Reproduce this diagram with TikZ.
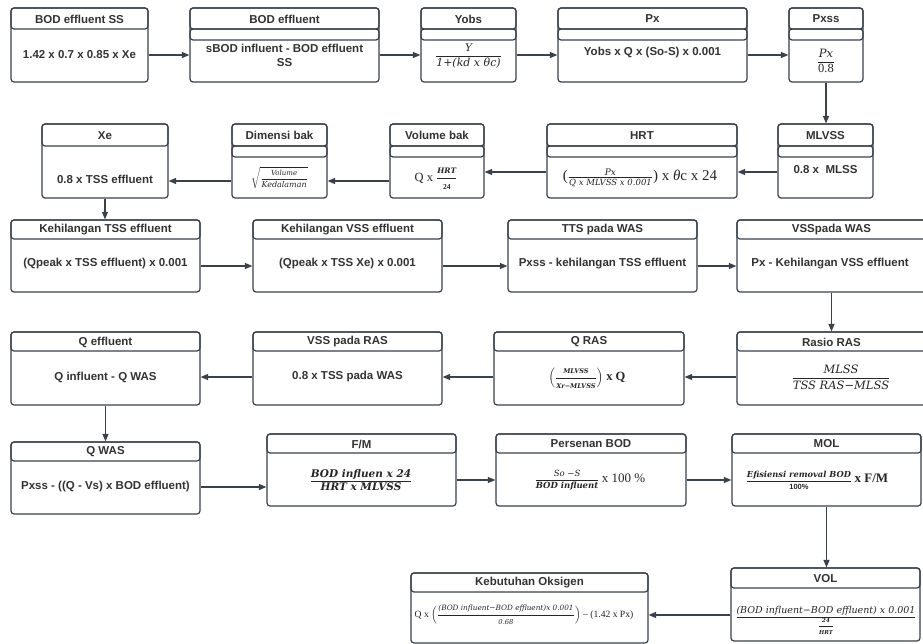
\documentclass[tikz,border=0pt]{standalone}
\usepackage{amsmath}
\usepackage{fontspec}
\setmainfont{Liberation Sans}
\newfontfamily\tnr{Liberation Serif}
\newfontfamily\djs{DejaVu Serif}
\usetikzlibrary{arrows.meta}

\definecolor{ln}{HTML}{3A414A}
\definecolor{txt}{HTML}{333333}

% italic and bold-italic variables at a given size, for the formulas
\newcommand\mvs[2]{\text{\fontsize{#1}{#1}\selectfont\djs\itshape #2}}
\newcommand\mbs[2]{\text{\fontsize{#1}{#1}\selectfont\djs\bfseries\itshape #2}}
\newcommand\mrs[2]{\text{\fontsize{#1}{#1}\selectfont\tnr #2}}

% A rounded box with a title strip, an optional empty band under it,
% and a named frame node covering the whole box.
% #1 name, #2 left, #3 top, #4 right, #5 bottom, #6 title bottom, #7 band bottom, #8 title
\newcommand\flowbox[8]{%
  \pgfmathsetmacro\bw{#4-#2}\pgfmathsetmacro\bh{#5-#3}%
  \node[frame, minimum width=\bw pt, minimum height=\bh pt] (#1) at ({(#2+#4)/2},{(#3+#5)/2}) {};
  \draw[part] (#2,#3) rectangle (#4,#6);
  \ifdim #7pt>#6pt \draw[part] (#2,#6) rectangle (#4,#7);\fi
  \node[title] (#1-title) at ({(#2+#4)/2},{(#3+#6)/2+0.5}) {#8};
}

\begin{document}
\begin{tikzpicture}[x=1pt,y=-1pt,
  frame/.style={draw=ln, line width=1.2pt, rounded corners=3pt, inner sep=0pt, fill=white},
  part/.style={draw=ln, line width=1.2pt, rounded corners=3pt},
  title/.style={font=\fontsize{11.5}{13}\selectfont\bfseries, text=txt, inner sep=0pt},
  body/.style={font=\fontsize{11.5}{14}\selectfont\bfseries, text=txt, align=center, inner sep=0pt},
  formula/.style={text=black!85, inner sep=0pt},
  arr/.style={draw=ln, line width=1.2pt, -{Triangle[length=7.5pt,width=6pt]}}]

\clip (0,0) rectangle (923,644);
\fill[white] (0,0) rectangle (923,644);

% ---- row 1
\flowbox{bodss}{11}{8}{148}{82}{29}{29}{BOD effluent SS}
\flowbox{bode}{190}{8}{379}{82}{29}{40}{BOD effluent}
\flowbox{yobs}{421}{8}{516}{82}{29}{40}{Yobs}
\flowbox{px}{558}{8}{747}{82}{29}{40}{Px}
\flowbox{pxss}{789}{8}{863}{82}{29}{40}{Pxss}

\node[body] (bodss-t) at (79.5,55) {1.42 x 0.7 x 0.85 x Xe};
\node[body] (bode-t) at (284.5,55) {sBOD influent - BOD effluent\\SS};
\node[formula] (yobs-t) at (468.5,56) {\fontsize{10}{12}\selectfont$\dfrac{\mvs{10.5}{Y}}{\mvs{11}{1+(kd x θc)}}$};
\node[body] (px-t) at (652.5,53) {Yobs x Q x (So-S) x 0.001};
\node[formula] (pxss-t) at (826,61) {\fontsize{11}{13}\selectfont$\dfrac{\mvs{11.5}{Px}}{\mrs{12.5}{0.8}}$};

% ---- row 2
\flowbox{xe}{42}{124}{168}{198}{146}{146}{Xe}
\flowbox{dim}{232}{124}{327}{198}{146}{157}{Dimensi bak}
\flowbox{volb}{390}{124}{484}{198}{146}{157}{Volume bak}
\flowbox{hrt}{547}{124}{737}{198}{146}{157}{HRT}
\flowbox{mlvss}{778}{124}{873}{198}{146}{157}{MLVSS}

\node[body] (xe-t) at (105,179) {0.8 x TSS effluent};
\node[formula] (dim-t) at (279.5,178) {\fontsize{9}{11}\selectfont$\sqrt{\dfrac{\mvs{7}{Volume}}{\mvs{8}{Kedalaman}}}$};
\node[formula] (volb-t) at (436,179) {\tnr\fontsize{12.5}{14}\selectfont Q x $\dfrac{\mbs{7.5}{HRT}}{\text{\fontsize{7.5}{7.5}\selectfont\tnr\bfseries 24}}$};
\node[formula] (hrt-t) at (640,178) {\tnr\fontsize{15}{17}\selectfont($\frac{\mvs{9}{Px}}{\mvs{8.5}{Q x MLVSS x 0.001}}$) x {\itshape θ}c x 24};
\node[body] (mlvss-t) at (825.5,170) {0.8 x\ \ MLSS};

% ---- row 3
\flowbox{ktss}{11}{220}{200}{292}{239}{239}{Kehilangan TSS effluent}
\flowbox{kvss}{253}{220}{442}{292}{239}{239}{Kehilangan VSS effluent}
\flowbox{tts}{508}{220}{697}{292}{239}{239}{TTS pada WAS}
\flowbox{vssw}{737}{220}{926}{292}{239}{239}{VSSpada WAS}

\node[body] (ktss-t) at (105.5,264) {(Qpeak x TSS effluent) x 0.001};
\node[body] (kvss-t) at (347.5,264) {(Qpeak x TSS Xe) x 0.001};
\node[body] (tts-t) at (602.5,264) {Pxss - kehilangan TSS effluent};
\node[body] (vssw-t) at (830,264) {Px - Kehilangan VSS effluent};

% ---- row 4
\flowbox{qeff}{11}{332}{200}{405}{351}{351}{Q effluent}
\flowbox{vssr}{253}{332}{442}{405}{351}{351}{VSS pada RAS}
\flowbox{qras}{494}{332}{684}{405}{351}{351}{Q RAS}
\flowbox{rras}{737}{332}{926}{405}{351}{351}{Rasio RAS}

\node[body] (qeff-t) at (105.5,377) {Q influent - Q WAS};
\node[body] (vssr-t) at (347.5,377) {0.8 x TSS pada WAS};
\node[formula] (qras-t) at (587,378) {\fontsize{11}{13}\selectfont$\left(\dfrac{\mbs{6.5}{MLVSS}}{\mbs{6.5}{Xr−MLVSS}}\right)$ {\tnr\bfseries\fontsize{12.5}{14}\selectfont x Q}};
\node[formula] (rras-t) at (841,377) {\fontsize{12}{14}\selectfont$\dfrac{\mvs{11.5}{MLSS}}{\mvs{11.5}{TSS RAS−MLSS}}$};

% ---- row 5
\flowbox{qwas}{11}{442}{200}{514}{461}{461}{Q WAS}
\flowbox{fm}{267}{434}{456}{506}{453}{453}{F/M}
\flowbox{pbod}{496}{434}{686}{506}{453}{453}{Persenan BOD}
\flowbox{mol}{732}{434}{921}{506}{453}{453}{MOL}

\node[body] (qwas-t) at (105.5,487) {Pxss - ((Q - Vs) x BOD effluent)};
\node[formula] (fm-t) at (361,480) {\fontsize{9}{11}\selectfont$\dfrac{\mbs{10.5}{BOD influen x 24}}{\mbs{10.5}{HRT x MLVSS}}$};
\node[formula] (pbod-t) at (590,480) {\fontsize{9}{11}\selectfont$\dfrac{\mvs{8.5}{So −S}}{\mbs{8.5}{BOD influent}}$ {\tnr\fontsize{13}{15}\selectfont x 100 \%}};
\node[formula] (mol-t) at (817,480) {\fontsize{9}{11}\selectfont$\dfrac{\mbs{8.3}{Efisiensi removal BOD}}{\text{\fontsize{7.5}{7.5}\selectfont\bfseries 100\%}}$ {\tnr\bfseries\fontsize{13}{15}\selectfont x F/M}};

% ---- row 6
\flowbox{ko}{411}{573}{648}{643}{592}{592}{Kebutuhan Oksigen}
\flowbox{volr}{731}{568}{920}{641}{588}{588}{VOL}

\node[formula] (ko-t) at (524,615) {\tnr\fontsize{9.6}{12}\selectfont Q x $\left(\dfrac{\mvs{7.3}{(BOD influent−BOD effluent)x 0.001}}{\mvs{6.8}{0.68}}\right)$ – (1.42 x Px)};
\node[formula] (volr-t) at (826,620) {\fontsize{9}{11}\selectfont$\dfrac{\mvs{9.5}{(BOD influent−BOD effluent) x 0.001}}{\dfrac{\mbs{5.5}{24}}{\mbs{5.5}{HRT}}}$};

% ---- connectors
\draw[arr] ([yshift=-10pt]bodss.east) -- ([yshift=-10pt]bodss.east -| bode.west);
\draw[arr] ([yshift=-10pt]bode.east) -- ([yshift=-10pt]bode.east -| yobs.west);
\draw[arr] ([yshift=-10pt]yobs.east) -- ([yshift=-10pt]yobs.east -| px.west);
\draw[arr] ([yshift=-10pt]px.east) -- ([yshift=-10pt]px.east -| pxss.west);
\draw[arr] (pxss.south) -- (pxss.south |- mlvss.north);

\draw[arr] ([yshift=-11pt]mlvss.west) -- ([yshift=-11pt]mlvss.west -| hrt.east);
\draw[arr] ([yshift=-11pt]hrt.west) -- ([yshift=-11pt]hrt.west -| volb.east);
\draw[arr] ([yshift=-20pt]volb.west) -- ([yshift=-20pt]volb.west -| dim.east);
\draw[arr] ([yshift=-20pt]dim.west) -- ([yshift=-20pt]dim.west -| xe.east);
\draw[arr] (xe.south) -- (xe.south |- ktss.north);

\draw[arr] ([yshift=-10pt]ktss.east) -- ([yshift=-10pt]ktss.east -| kvss.west);
\draw[arr] ([yshift=-10pt]kvss.east) -- ([yshift=-10pt]kvss.east -| tts.west);
\draw[arr] ([yshift=-10pt]tts.east) -- ([yshift=-10pt]tts.east -| vssw.west);
\draw[arr] (vssw.south) -- (vssw.south |- rras.north);

\draw[arr] ([yshift=-8.5pt]rras.west) -- ([yshift=-8.5pt]rras.west -| qras.east);
\draw[arr] ([yshift=-8.5pt]qras.west) -- ([yshift=-8.5pt]qras.west -| vssr.east);
\draw[arr] ([yshift=-8.5pt]vssr.west) -- ([yshift=-8.5pt]vssr.west -| qeff.east);
\draw[arr] (qeff.south) -- (qeff.south |- qwas.north);

\draw[arr] ([yshift=-9pt]qwas.east) -- ([yshift=-9pt]qwas.east -| fm.west);
\draw[arr] ([yshift=-10pt]fm.east) -- ([yshift=-10pt]fm.east -| pbod.west);
\draw[arr] ([yshift=-10pt]pbod.east) -- ([yshift=-10pt]pbod.east -| mol.west);
\draw[arr] (mol.south) -- (mol.south |- volr.north);

\draw[arr] ([yshift=-10.5pt]volr.west) -- ([yshift=-10.5pt]volr.west -| ko.east);
\end{tikzpicture}
\end{document}
